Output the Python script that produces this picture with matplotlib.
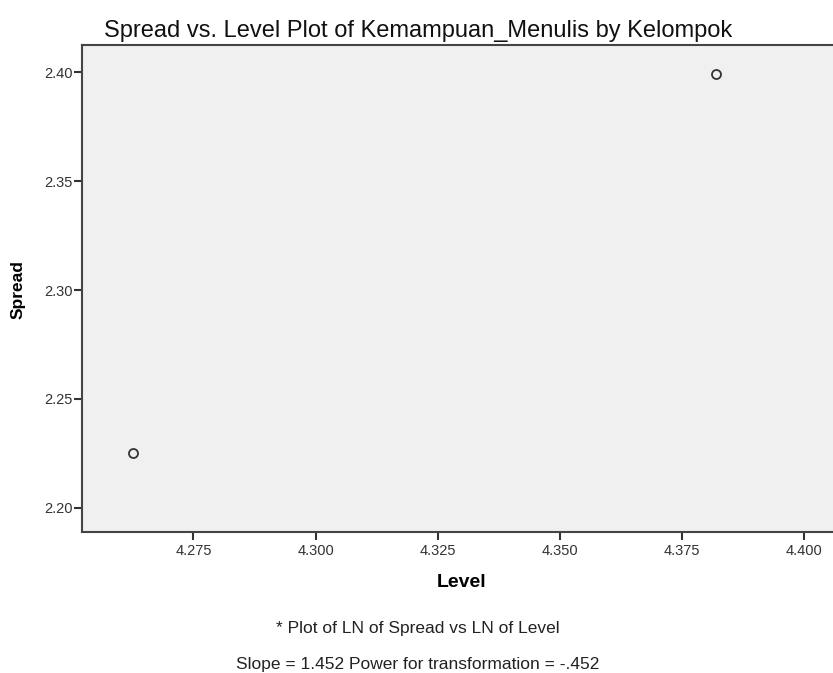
import matplotlib.pyplot as plt

# LN of level / LN of spread for the two groups
level = [4.2627, 4.3819]
spread = [2.2250, 2.3993]

xticks = [4.275, 4.300, 4.325, 4.350, 4.375, 4.400]
yticks = [2.20, 2.25, 2.30, 2.35, 2.40]

plt.rcParams['font.family'] = ['Liberation Sans', 'DejaVu Sans']

fig = plt.figure(figsize=(8.33, 6.73), dpi=100)
ax = fig.add_axes([82 / 833, 141 / 673, 1 - 82 / 833, 487 / 673])
ax.set_facecolor('#f0f0f0')

ax.plot(level, spread, 'o', markersize=6.5, markerfacecolor='none',
        markeredgecolor='#333333', markeredgewidth=1.3)

ax.set_xlim(4.2522, 4.4059)
ax.set_ylim(2.1888, 2.4126)
ax.set_xticks(xticks)
ax.set_xticklabels([f'{t:.3f}' for t in xticks])
ax.set_yticks(yticks)
ax.set_yticklabels([f'{t:.2f}' for t in yticks])
ax.tick_params(direction='out', length=6, width=1.5, color='#333333',
               labelsize=10.5, labelcolor='#333333')
ax.tick_params(axis='x', pad=2.5)
ax.tick_params(axis='y', pad=1)

for s in ['left', 'bottom', 'top']:
    ax.spines[s].set_color('#444444')
    ax.spines[s].set_linewidth(1.5)
ax.spines['right'].set_visible(False)

ax.set_xlabel('Level', fontsize=14, fontweight='bold', va='center')
ax.xaxis.set_label_coords(0.506, -0.1047)
ax.set_ylabel('Spread', fontsize=12.5, fontweight='bold', va='center')
ax.yaxis.set_label_coords(-0.0846, 0.497)

fig.text(0.502, 1 - 31 / 673, 'Spread vs. Level Plot of Kemampuan_Menulis by Kelompok',
         ha='center', va='center', fontsize=17, color='#111111')
fig.text(0.502, 1 - 628 / 673, '* Plot of LN of Spread vs LN of Level',
         ha='center', va='center', fontsize=12.5, color='#222222')
fig.text(0.502, 1 - 664 / 673, 'Slope = 1.452 Power for transformation = -.452',
         ha='center', va='center', fontsize=12.5, color='#222222')

fig.savefig('out.png', dpi=100)
